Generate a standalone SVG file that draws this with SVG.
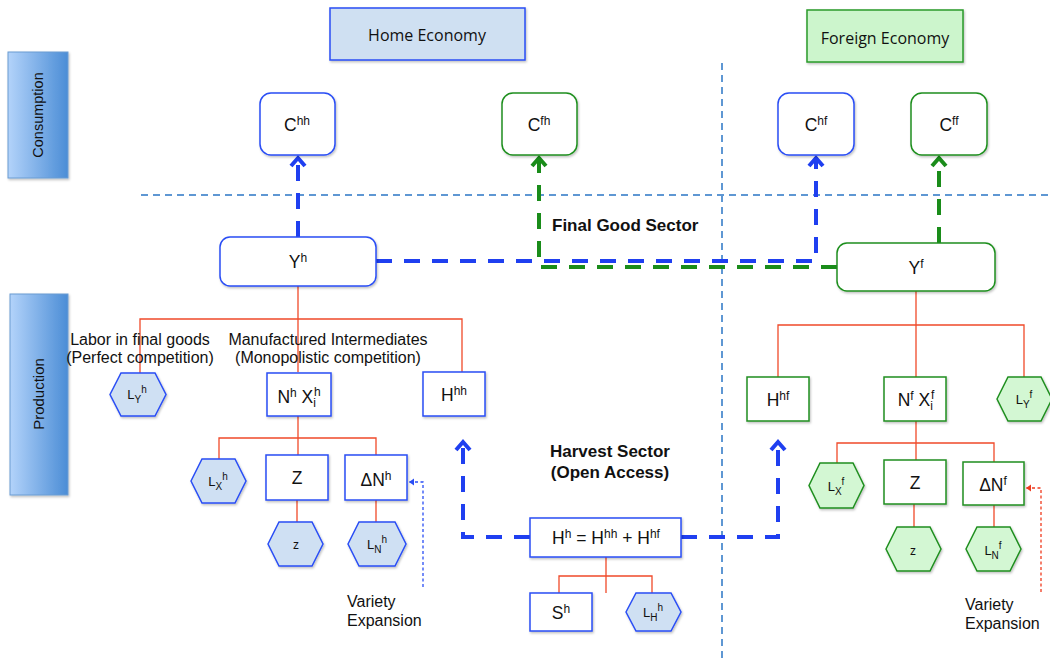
<svg xmlns="http://www.w3.org/2000/svg" width="1050" height="662" viewBox="0 0 1050 662">
<defs>
<linearGradient id="barg" x1="0" y1="0" x2="1" y2="0">
<stop offset="0" stop-color="#b3d3fa"/>
<stop offset="1" stop-color="#4b8dd6"/>
</linearGradient>
<filter id="sh" x="-20%" y="-20%" width="140%" height="150%">
<feDropShadow dx="1" dy="1.5" stdDeviation="1" flood-color="#000" flood-opacity="0.25"/>
</filter>
<marker id="chevB" markerUnits="userSpaceOnUse" markerWidth="24" markerHeight="24" viewBox="-12 -12 24 24" refX="1" refY="0" orient="auto">
<path d="M-8,-7 L0,0 L-8,7" fill="none" stroke="#1f3ff0" stroke-width="4"/>
</marker>
<marker id="chevG" markerUnits="userSpaceOnUse" markerWidth="24" markerHeight="24" viewBox="-12 -12 24 24" refX="1" refY="0" orient="auto">
<path d="M-8,-7 L0,0 L-8,7" fill="none" stroke="#1a8c1a" stroke-width="4"/>
</marker>
<marker id="triB" markerUnits="userSpaceOnUse" markerWidth="10" markerHeight="10" viewBox="-6 -5 10 10" refX="0" refY="0" orient="auto">
<path d="M-5,-3.5 L0,0 L-5,3.5 Z" fill="#2a4ef5"/>
</marker>
<marker id="triR" markerUnits="userSpaceOnUse" markerWidth="10" markerHeight="10" viewBox="-6 -5 10 10" refX="0" refY="0" orient="auto">
<path d="M-5,-3.5 L0,0 L-5,3.5 Z" fill="#f03a1e"/>
</marker>
</defs>
<style>
text { font-family: "Liberation Sans", Arial, sans-serif; fill: #111; }
.lbl { font-size: 17.5px; text-anchor: middle; }
.hl { font-size: 13px; text-anchor: middle; }
.s { font-size: 12px; }
.hs { font-size: 10px; }
.note { font-size: 16px; }
.bold { font-size: 17px; font-weight: bold; }
.econ { font-family: "Open Sans", "DejaVu Sans", sans-serif; font-size: 16px; text-anchor: middle; }
.bar { fill: url(#barg); stroke: #6a9cd2; stroke-width: 1; filter: url(#sh); }
.bbox { fill: #fff; stroke: #2a4ef5; stroke-width: 1.5; filter: url(#sh); }
.gbox { fill: #fff; stroke: #1f8f1f; stroke-width: 1.5; filter: url(#sh); }
.bhex { fill: #cfe0f3; stroke: #2a4ef5; stroke-width: 1.5; filter: url(#sh); }
.ghex { fill: #d3f7d3; stroke: #1f8f1f; stroke-width: 1.5; filter: url(#sh); }
.guide { fill: none; stroke: #5e97d3; stroke-width: 2; stroke-dasharray: 7 5; }
.tree { fill: none; stroke: #f04a2a; stroke-width: 1.3; }
.fb { fill: none; stroke: #1f3ff0; stroke-width: 4; stroke-dasharray: 16 12; }
.fg { fill: none; stroke: #1a8c1a; stroke-width: 4; stroke-dasharray: 16 12; }
.thinb { fill: none; stroke: #2a4ef5; stroke-width: 1.3; stroke-dasharray: 3 2.5; }
.thinr { fill: none; stroke: #f03a1e; stroke-width: 1.3; stroke-dasharray: 3 2.5; }
</style>

<g id="guides">
<line class="guide" x1="141" y1="195" x2="1050" y2="195"/>
<line class="guide" x1="722" y1="63" x2="722" y2="662"/>
</g>

<g id="bar-consumption">
<rect class="bar" x="8" y="52" width="60" height="126"/>
<text transform="translate(43,115) rotate(-90)" text-anchor="middle" font-size="14.5">Consumption</text>
</g>
<g id="bar-production">
<rect class="bar" x="10" y="294" width="58" height="201"/>
<text transform="translate(44,394) rotate(-90)" text-anchor="middle" font-size="15">Production</text>
</g>

<g id="home-economy">
<rect x="330" y="8" width="195" height="52" fill="#cfe0f2" stroke="#2a4ef5" stroke-width="1.5" filter="url(#sh)"/>
<text class="econ" x="427" y="41">Home Economy</text>
</g>
<g id="foreign-economy">
<rect x="807" y="10" width="156" height="52" fill="#ccf5cc" stroke="#2a9a2a" stroke-width="1.5" filter="url(#sh)"/>
<text class="econ" x="885" y="44">Foreign Economy</text>
</g>

<g id="tree">
<path class="tree" d="M298,286 V372 M140,373 V319 H462 V372"/>
<path class="tree" d="M298,416 V455 M219,459 V438 H376 V455"/>
<path class="tree" d="M297,500 V522 M376,500 V522"/>
<path class="tree" d="M606,557 V593 M559,593 V576 H652 V593"/>
<path class="tree" d="M916,291 V377 M778,377 V325 H1024 V377"/>
<path class="tree" d="M916,421 V460 M837,463 V443 H994 V462"/>
<path class="tree" d="M914,504 V527 M994,505 V527"/>
</g>

<g id="connectors">
<path class="fb" d="M298,237 V157" marker-end="url(#chevB)"/>
<path class="fb" d="M376,261 H816 V157" marker-end="url(#chevB)"/>
<path class="fg" d="M837,267 H539 V157" marker-end="url(#chevG)"/>
<path class="fg" d="M939,243 V157" marker-end="url(#chevG)"/>
<path class="fb" d="M530,537 H463 V441" marker-end="url(#chevB)"/>
<path class="fb" d="M681,537 H778 V441" marker-end="url(#chevB)"/>
<path class="thinb" d="M423,587 V482 H409" marker-end="url(#triB)"/>
<path class="thinr" d="M1041,592 V488 H1026" marker-end="url(#triR)"/>
</g>

<g id="Chh">
<rect class="bbox" x="260" y="93" width="75" height="62" rx="11"/>
<text class="lbl" x="297" y="131">C<tspan class="s" dy="-6">hh</tspan></text>
</g>
<g id="Cfh">
<rect class="gbox" x="502" y="93" width="75" height="62" rx="11"/>
<text class="lbl" x="539" y="131">C<tspan class="s" dy="-6">fh</tspan></text>
</g>
<g id="Chf">
<rect class="bbox" x="778" y="93" width="76" height="62" rx="11"/>
<text class="lbl" x="816" y="131">C<tspan class="s" dy="-6">hf</tspan></text>
</g>
<g id="Cff">
<rect class="gbox" x="911" y="93" width="76" height="62" rx="11"/>
<text class="lbl" x="949" y="131">C<tspan class="s" dy="-6">ff</tspan></text>
</g>

<g id="Yh">
<rect class="bbox" x="220" y="237" width="156" height="49" rx="10"/>
<text class="lbl" x="298" y="268">Y<tspan class="s" dy="-6">h</tspan></text>
</g>
<g id="Yf">
<rect class="gbox" x="837" y="243" width="158" height="48" rx="10"/>
<text class="lbl" x="916" y="274">Y<tspan class="s" dy="-6">f</tspan></text>
</g>

<g id="final-good-label">
<text class="bold" x="552" y="231">Final Good Sector</text>
</g>

<g id="labels-home">
<text class="note" x="140" y="345" text-anchor="middle">Labor in final goods</text>
<text class="note" x="140" y="363" text-anchor="middle">(Perfect competition)</text>
<text class="note" x="328" y="345" text-anchor="middle">Manufactured Intermediates</text>
<text class="note" x="328" y="363" text-anchor="middle">(Monopolistic competition)</text>
</g>

<g id="LYh">
<polygon class="bhex" points="110,394.5 121,373 155,373 166,394.5 155,416 121,416"/>
<text class="hl" x="137" y="399">L<tspan class="hs" dy="4">Y</tspan><tspan class="hs" dy="-10">h</tspan></text>
</g>
<g id="NhXih">
<rect class="bbox" x="267" y="373" width="64" height="43"/>
<text class="lbl" x="299" y="403">N<tspan class="s" dy="-6">h</tspan><tspan dy="6"> X</tspan><tspan class="s" dy="4">i</tspan><tspan class="s" dx="-2" dy="-11">h</tspan></text>
</g>
<g id="Hhh">
<rect class="bbox" x="423" y="372" width="62" height="44"/>
<text class="lbl" x="454" y="401">H<tspan class="s" dy="-6">hh</tspan></text>
</g>

<g id="Lxh">
<polygon class="bhex" points="191,481 202,459 235,459 246,481 235,503 202,503"/>
<text class="hl" x="218" y="486">L<tspan class="hs" dy="4">X</tspan><tspan class="hs" dy="-10">h</tspan></text>
</g>
<g id="Zh">
<rect class="bbox" x="266" y="455" width="62" height="45"/>
<text class="lbl" x="297" y="484">Z</text>
</g>
<g id="dNh">
<rect class="bbox" x="345" y="455" width="62" height="45"/>
<text class="lbl" x="376" y="486">ΔN<tspan class="s" dy="-6">h</tspan></text>
</g>
<g id="zh">
<polygon class="bhex" points="268,544 279,522 312,522 323,544 312,566 279,566"/>
<text x="296" y="549" font-size="12" text-anchor="middle">z</text>
</g>
<g id="LNh">
<polygon class="bhex" points="348,544 359,522 395,522 406,544 395,566 359,566"/>
<text class="hl" x="377" y="549">L<tspan class="hs" dy="4">N</tspan><tspan class="hs" dy="-10">h</tspan></text>
</g>
<g id="variety-home">
<text class="note" x="347" y="607">Variety</text>
<text class="note" x="347" y="626">Expansion</text>
</g>

<g id="harvest-label">
<text class="bold" x="610" y="457" text-anchor="middle">Harvest Sector</text>
<text class="bold" x="610" y="478" text-anchor="middle">(Open Access)</text>
</g>
<g id="Hh">
<rect class="bbox" x="530" y="518" width="151" height="39"/>
<text class="lbl" x="606" y="544">H<tspan class="s" dy="-6">h</tspan><tspan dy="6"> =  H</tspan><tspan class="s" dy="-6">hh</tspan><tspan dy="6">  + H</tspan><tspan class="s" dy="-6">hf</tspan></text>
</g>
<g id="Sh">
<rect class="bbox" x="530" y="593" width="62" height="38"/>
<text class="lbl" x="561" y="619">S<tspan class="s" dy="-6">h</tspan></text>
</g>
<g id="LHh">
<polygon class="bhex" points="626,612 636,593 671,593 681,612 671,631 636,631"/>
<text class="hl" x="653" y="617">L<tspan class="hs" dy="4">H</tspan><tspan class="hs" dy="-10">h</tspan></text>
</g>

<g id="Hhf">
<rect class="gbox" x="747" y="377" width="62" height="44"/>
<text class="lbl" x="778" y="406">H<tspan class="s" dy="-6">hf</tspan></text>
</g>
<g id="NfXif">
<rect class="gbox" x="884" y="377" width="62" height="44"/>
<text class="lbl" x="916" y="406">N<tspan class="s" dy="-6">f</tspan><tspan dy="6"> X</tspan><tspan class="s" dy="4">i</tspan><tspan class="s" dx="-2" dy="-11">f</tspan></text>
</g>
<g id="LYf">
<polygon class="ghex" points="997,399 1008,377 1041,377 1052,399 1041,421 1008,421"/>
<text class="hl" x="1024" y="404">L<tspan class="hs" dy="4">Y</tspan><tspan class="hs" dy="-10">f</tspan></text>
</g>

<g id="Lxf">
<polygon class="ghex" points="809,485.5 820,463 853,463 864,485.5 853,508 820,508"/>
<text class="hl" x="836" y="491">L<tspan class="hs" dy="4">X</tspan><tspan class="hs" dy="-10">f</tspan></text>
</g>
<g id="Zf">
<rect class="gbox" x="884" y="460" width="62" height="44"/>
<text class="lbl" x="915" y="489">Z</text>
</g>
<g id="dNf">
<rect class="gbox" x="963" y="462" width="61" height="43"/>
<text class="lbl" x="993" y="491">ΔN<tspan class="s" dy="-6">f</tspan></text>
</g>
<g id="zf">
<polygon class="ghex" points="886,549 897,527 930,527 941,549 930,571 897,571"/>
<text x="913" y="555" font-size="12" text-anchor="middle">z</text>
</g>
<g id="LNf">
<polygon class="ghex" points="966,549 977,527 1010,527 1021,549 1010,571 977,571"/>
<text class="hl" x="993" y="555">L<tspan class="hs" dy="4">N</tspan><tspan class="hs" dy="-10">f</tspan></text>
</g>
<g id="variety-foreign">
<text class="note" x="965" y="610">Variety</text>
<text class="note" x="965" y="629">Expansion</text>
</g>
</svg>
